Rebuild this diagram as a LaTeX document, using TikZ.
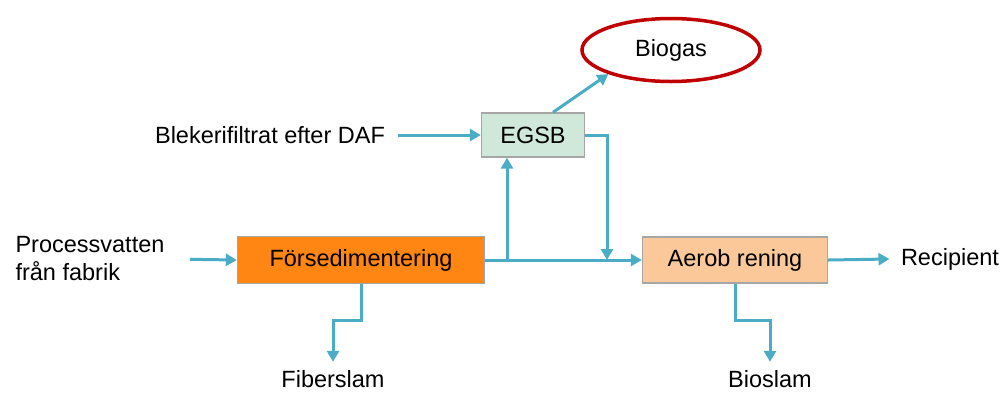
\documentclass[tikz,border=0pt]{standalone}
\usepackage{fontspec}
\setmainfont{Liberation Sans}
\usetikzlibrary{arrows.meta, positioning, shapes.geometric}
\definecolor{flowblue}{HTML}{4BACC6}
\definecolor{forsorange}{HTML}{FF8612}
\definecolor{aerobpeach}{HTML}{FBC999}
\definecolor{egsbgreen}{HTML}{CFE8DA}
\definecolor{boxgray}{HTML}{A6A6A6}
\definecolor{gasred}{HTML}{C00000}

\begin{document}
\begin{tikzpicture}[x=1pt, y=-1pt,
    font=\fontsize{23.5}{28}\selectfont,
    unit/.style={draw=boxgray, line width=1.4pt, inner sep=0pt},
    flow/.style={draw=flowblue, line width=3pt, -{Triangle[length=11pt, width=12pt]}}]
    \useasboundingbox (0,0) rectangle (1008,392);
    % process units
    \node[unit, fill=egsbgreen, minimum width=103, minimum height=44] (egsb) at (533,135) {EGSB};
    \node[unit, fill=forsorange, minimum width=247, minimum height=47] (fors) at (361,260) {Försedimentering};
    \node[unit, fill=aerobpeach, minimum width=185, minimum height=46] (aerob) at (735,260) {Aerob rening};
    \node[ellipse, draw=gasred, line width=3.5pt, minimum width=178, minimum height=63] (biogas) at (671,50) {Biogas};
    % streams in and out
    \node (blek) at (270,135) {Blekerifiltrat efter DAF};
    \node[align=left] (proc) at (90,259) {Processvatten\\från fabrik};
    \node (recip) at (950,259) {Recipient};
    \node (fiber) at (333,379) {Fiberslam};
    \node (bio) at (770,379) {Bioslam};
    \coordinate (split) at (507,260);
    \coordinate (merge) at (607,260);
    % connectors
    \draw[flow, shorten <=10pt] (blek.east) -- (egsb.west);
    \draw[flow, shorten <=22pt] (proc.east) -- (fors.west);
    \draw[flow] (fors.east) -- (aerob.west);
    \draw[flow] (split) -- (egsb.south -| split);
    \draw[flow] (egsb.east) -| (merge);
    \draw[flow] ([xshift=20]egsb.north) -- (biogas.201);
    \draw[flow] (aerob.east) -- ([xshift=-8]recip.west);
    \draw[flow] (fors.south) |- ++(0,36) -| ([yshift=5]fiber.north);
    \draw[flow] (aerob.south) |- ++(0,37) -| ([yshift=5]bio.north);
\end{tikzpicture}
\end{document}
